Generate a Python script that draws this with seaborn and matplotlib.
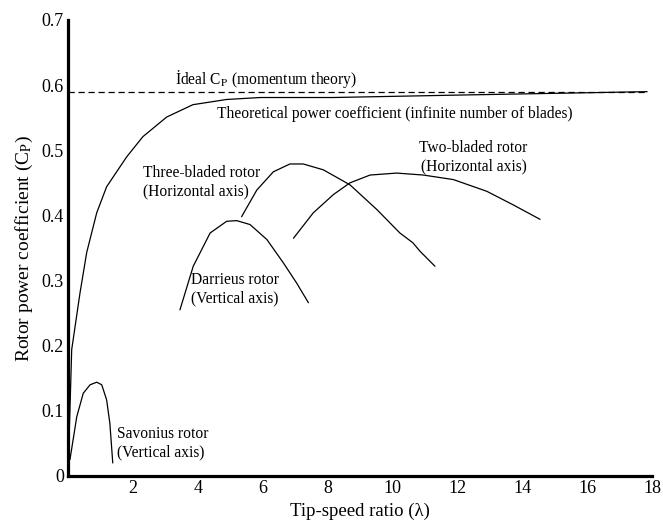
import matplotlib
matplotlib.use("Agg")
import matplotlib.pyplot as plt
import seaborn as sns
import pandas as pd

# ---- data ----
ideal_cp = 0.59
ideal_x = [0.0, 17.85]

theo_x = [0.0, 0.114, 0.37, 0.576, 0.885, 1.19, 1.81, 2.31, 3.04, 3.85, 4.89, 5.92, 8.17, 12.3, 17.85]
theo_y = [0.0, 0.194, 0.281, 0.343, 0.404, 0.444, 0.490, 0.521, 0.551, 0.570, 0.578, 0.581, 0.581, 0.585, 0.590]

sav_x = [0.06, 0.27, 0.47, 0.68, 0.885, 1.04, 1.19, 1.29, 1.38]
sav_y = [0.025, 0.091, 0.127, 0.140, 0.144, 0.140, 0.117, 0.081, 0.020]

dar_x = [3.45, 3.86, 4.38, 4.89, 5.20, 5.61, 6.13, 6.64, 7.05, 7.41]
dar_y = [0.255, 0.322, 0.373, 0.391, 0.392, 0.386, 0.363, 0.327, 0.296, 0.266]

three_x = [5.35, 5.82, 6.33, 6.84, 7.25, 7.87, 8.69, 9.52, 10.23, 10.63, 10.85, 11.31]
three_y = [0.398, 0.439, 0.467, 0.479, 0.479, 0.470, 0.447, 0.409, 0.373, 0.358, 0.345, 0.322]

two_x = [6.95, 7.56, 8.18, 8.69, 9.31, 10.13, 10.95, 11.88, 12.91, 13.73, 14.55]
two_y = [0.365, 0.404, 0.432, 0.450, 0.462, 0.465, 0.462, 0.455, 0.437, 0.416, 0.394]

x_ticks = [2, 4, 6, 8, 10, 12, 14, 16, 18]
y_ticks = [0, 0.1, 0.2, 0.3, 0.4, 0.5, 0.6, 0.7]
y_tick_labels = ["0", "0.1", "0.2", "0.3", "0.4", "0.5", "0.6", "0.7"]

# ---- style ----
sns.set_theme(style="white")
plt.rcParams["font.family"] = ["Liberation Serif", "DejaVu Serif"]
plt.rcParams["mathtext.fontset"] = "stix"

fig = plt.figure(figsize=(6.63, 5.22), dpi=100)
ax = fig.add_axes([68 / 663, 1 - 476 / 522, (652 - 68) / 663, (476 - 20) / 522])

line_kw = dict(color="black", linewidth=0.9, sort=False, estimator=None, ax=ax)
for xs, ys in [(theo_x, theo_y), (sav_x, sav_y), (dar_x, dar_y), (three_x, three_y), (two_x, two_y)]:
    df = pd.DataFrame({"x": xs, "y": ys})
    sns.lineplot(data=df, x="x", y="y", **line_kw)

df_ideal = pd.DataFrame({"x": ideal_x, "y": [ideal_cp, ideal_cp]})
sns.lineplot(data=df_ideal, x="x", y="y", color="black", linewidth=0.9,
             linestyle=(0, (5, 3)), ax=ax)

ax.set_xlim(0, 18)
ax.set_ylim(0, 0.7)
ax.set_xticks(x_ticks)
ax.set_xticklabels([str(t) for t in x_ticks])
ax.set_yticks(y_ticks)
ax.set_yticklabels(y_tick_labels)
ax.tick_params(axis="both", length=0, labelsize=13, colors="black")
ax.tick_params(axis="x", pad=3)
ax.tick_params(axis="y", pad=3)

for s in ["top", "right"]:
    ax.spines[s].set_visible(False)
for s in ["left", "bottom"]:
    ax.spines[s].set_color("black")
    ax.spines[s].set_linewidth(2.3)

ax.set_xlabel("Tip-speed ratio (λ)", fontsize=13.5, color="black", labelpad=4)
ax.set_ylabel(r"Rotor power coefficient (C$_{\mathrm{P}}$)", fontsize=14, color="black", labelpad=5)

fs = 11.2
ann = dict(fontsize=fs, color="black", va="center", ha="left")
ax.text(3.3, 0.610, r"İdeal C$_{\mathrm{P}}$ (momentum theory)", **ann)
ax.text(4.6, 0.555, "Theoretical power coefficient (infinite number of blades)", **ann)
ax.text(2.3, 0.451, "Three-bladed rotor\n(Horizontal axis)", linespacing=1.25, **ann)
ax.text(3.8, 0.287, "Darrieus rotor\n(Vertical axis)", linespacing=1.25, **ann)
ax.text(12.5, 0.490, "Two-bladed rotor\n(Horizontal axis)", linespacing=1.2, fontsize=fs,
        color="black", va="center", ha="center", multialignment="center")
ax.text(1.5, 0.051, "Savonius rotor\n(Vertical axis)", linespacing=1.2, **ann)

fig.savefig("out.png", dpi=100)
